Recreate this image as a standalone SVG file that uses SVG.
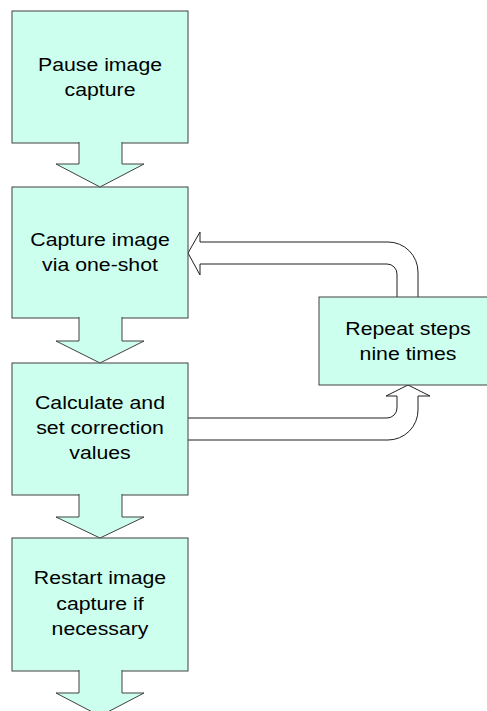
<svg xmlns="http://www.w3.org/2000/svg" width="487" height="711" viewBox="0 0 487 711">
<style>
.box{fill:#ccffee;stroke:#404040;stroke-width:1}
.arr{fill:#ccffee;stroke:#404040;stroke-width:1}
.con{fill:#ffffff;stroke:#202020;stroke-width:1}
text{font-family:"Liberation Sans",Arial,sans-serif;font-size:18.5px;fill:#000;text-anchor:middle}
</style>
<rect width="487" height="711" fill="#ffffff"/>
<g id="connectors">
<path class="con" d="M418,297 V272 A30,30 0 0 0 388,242 H200 V232 L188,253 L200,275 V264 H387 A10,10 0 0 1 397,274 V297"/>
<path class="con" d="M188,418 H387 A10,10 0 0 0 397,408 V396 H386 L408,385 L430,396 H418 V410 A30,30 0 0 1 388,440 H188"/>
</g>
<g id="n1">
<rect class="box" x="12" y="11" width="176" height="132"/>
<text transform="translate(100,0) scale(1.15,1)"><tspan x="0" y="71.5">Pause image</tspan><tspan x="0" y="96.5">capture</tspan></text>
</g>
<g id="n2">
<rect class="box" x="12" y="187" width="176" height="131"/>
<text transform="translate(100,0) scale(1.15,1)"><tspan x="0" y="246">Capture image</tspan><tspan x="0" y="271">via one-shot</tspan></text>
</g>
<g id="n3">
<rect class="box" x="12" y="363" width="176" height="132"/>
<text transform="translate(100,0) scale(1.15,1)"><tspan x="0" y="409.5">Calculate and</tspan><tspan x="0" y="434.5">set correction</tspan><tspan x="0" y="459.5">values</tspan></text>
</g>
<g id="n4">
<rect class="box" x="12" y="538" width="176" height="133"/>
<text transform="translate(100,0) scale(1.15,1)"><tspan x="0" y="584.5">Restart image</tspan><tspan x="0" y="610">capture if</tspan><tspan x="0" y="635.5">necessary</tspan></text>
</g>
<g id="n5">
<rect class="box" x="319" y="297" width="176" height="88"/>
<text transform="translate(408,0) scale(1.15,1)"><tspan x="0" y="335">Repeat steps</tspan><tspan x="0" y="360">nine times</tspan></text>
</g>
<g id="flow-arrows">
<path class="arr" d="M79,142 V164 H56 L100,187 L144,164 H122 V142"/>
<path class="arr" d="M79,317 V341 H56 L100,363 L144,341 H122 V317"/>
<path class="arr" d="M79,494 V517 H56 L100,538 L144,517 H122 V494"/>
<path class="arr" d="M79,670 V693 H56 L100,716 L144,693 H122 V670"/>
</g>
</svg>
